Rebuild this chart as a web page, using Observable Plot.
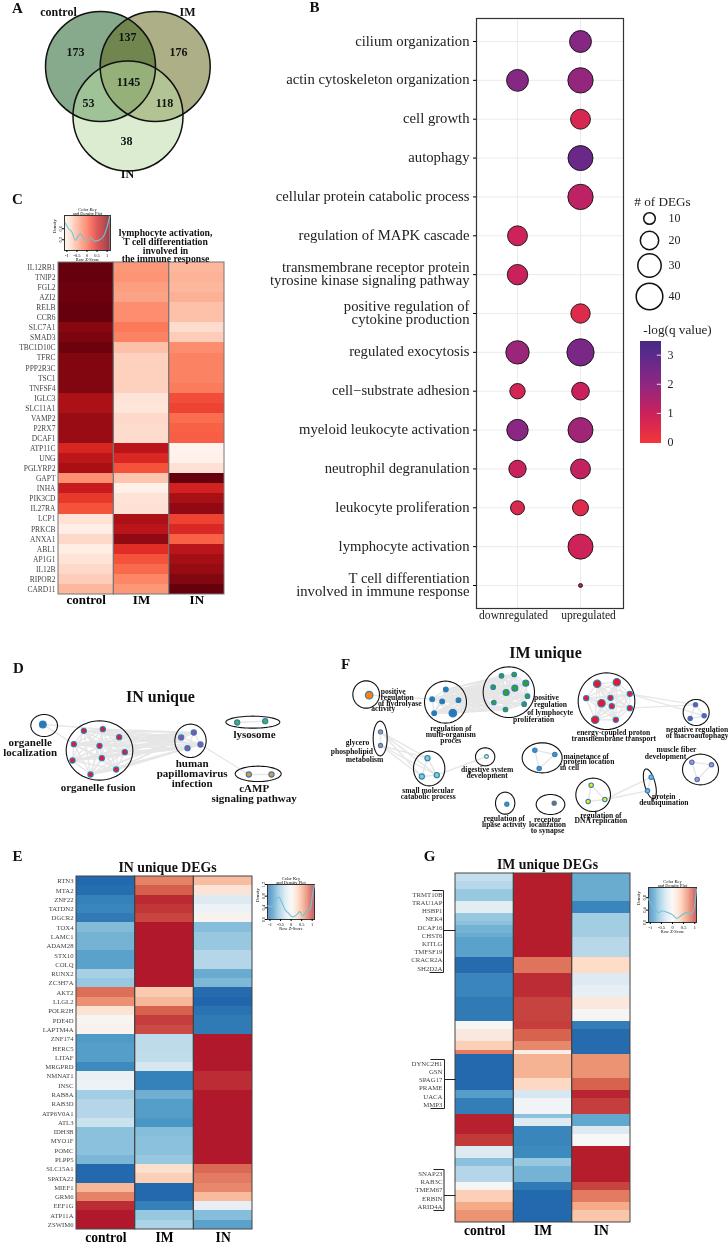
<!DOCTYPE html>
<html><head><meta charset="utf-8">
<script src="https://cdn.jsdelivr.net/npm/d3@7"></script>
<script src="https://cdn.jsdelivr.net/npm/@observablehq/plot@0.6"></script>
<style>html,body{margin:0;background:#fff}#fig{position:relative;width:728px;height:1244px;overflow:hidden}#fig svg{position:absolute;max-width:none;background:transparent;will-change:transform}</style>
</head><body><div id="fig"></div>
<script>
const SERIF="Liberation Serif";
// ---------- A: Venn
const vennSets=[{name:"control",x:100,y:66,fill:"#87aa8c",op:1},{name:"IM",x:154.7,y:66,fill:"#5b610f",op:.5},{name:"IN",x:127.5,y:115.5,fill:"#b9d9a1",op:.5}];
const vennLabels=[{t:"173",x:75,y:52},{t:"137",x:127,y:37},{t:"176",x:178,y:52},{t:"1145",x:128,y:82},{t:"53",x:88,y:103},{t:"118",x:164,y:103},{t:"38",x:126,y:141}];
const vennNames=[{t:"control",x:58,y:12},{t:"IM",x:187,y:12},{t:"IN",x:127,y:174}];
// ---------- B: dot plot
const terms=["cilium organization","actin cytoskeleton organization","cell growth","autophagy","cellular protein catabolic process","regulation of MAPK cascade","transmembrane receptor protein\ntyrosine kinase signaling pathway","positive regulation of\ncytokine production","regulated exocytosis","cell\u2212substrate adhesion","myeloid leukocyte activation","neutrophil degranulation","leukocyte proliferation","lymphocyte activation","T cell differentiation\ninvolved in immune response"];
const dirs=["downregulated","upregulated"];
const downDEGs=[null,27,null,null,null,23,24,null,30,15.6,26,18.5,13.5,null,null];
const downQ=[null,2.2,null,null,null,.9,1,null,1.8,.8,2.1,1,.6,null,null];
const upDEGs=[27,36,23,35,36,null,null,22,42,19,35,23,16.5,35,2];
const upQ=[2.2,1.9,.7,2.7,1.2,null,null,.5,2.4,1,1.7,1.1,.5,.9,1.2];
const sizeBreaks=[10,20,30,40];
const qTicks=[0,1,2,3];
// ---------- C heatmap
const cGenes=["IL12RB1","TNIP2","FGL2","AZI2","RELB","CCR6","SLC7A1","SMAD3","TBC1D10C","TFRC","PPP2R3C","TSC1","TNFSF4","IGLC3","SLC11A1","VAMP2","P2RX7","DCAF1","ATP11C","UNG","PGLYRP2","GAPT","INHA","PIK3CD","IL27RA","LCP1","PRKCB","ANXA1","ABL1","AP1G1","IL12B","RIPOR2","CARD11"];
const cControl=[1.15,1.15,1.12,1.12,1.15,1.15,1,1.05,1.12,1.03,1.03,1.03,1.03,.8,.8,.9,.9,.9,.48,.68,.82,-.28,.6,.32,.15,-.92,-1.05,-.82,-1.05,-.92,-.82,-.72,-.55];
const cIM=[-.32,-.3,-.38,-.4,-.25,-.25,-.1,-.17,-.62,-.75,-.75,-.75,-.75,-.93,-.95,-.82,-.85,-.85,.7,.46,.15,-.65,-1.08,-.92,-.9,.8,.7,.95,.4,.15,0,-.2,-.32];
const cIN=[-.55,-.52,-.55,-.5,-.62,-.62,-.85,-.72,-.25,-.18,-.18,-.18,-.13,.18,.25,-.03,.05,.07,-1.1,-1.08,-.9,1.15,.52,.82,.95,.25,.45,.05,.7,.85,.92,1.02,1.15];
const cKeyZ=[-1.08,-.92,-.75,-.58,-.47,-.33,-.17,0,.2,.37,.58,.8,1,1.13];
const cKeyD=[.805,.6,.48,.18,.3,.42,.24,.15,.27,.15,.18,.3,.66,1.05];
// ---------- E heatmap
const eGenes=["RTN3","MTA2","ZNF22","TATDN2","DGCR2","TOX4","LAMC1","ADAM28","STX10","COLQ","RUNX2","ZC3H7A","AKT2","LLGL2","POLR2H","PDE4D","LAPTM4A","ZNF174","HERC5","LITAF","MRGPRD","NMNAT1","INSC","RAB8A","RAB3D","ATP6V0A1","ATL3","IDH3B","MYO1F","POMC","PLPP5","SLC15A1","SPATA22","MIEF1","GRM6","EEF1G","ATP11A","ZSWIM6"];
const eControl=[-1.13,-1.1,-.98,-.95,-1.02,-.63,-.68,-.68,-.78,-.78,-.48,-.55,.8,.66,.22,.03,.06,-.82,-.8,-.8,-.92,-.1,-.08,-.5,-.42,-.42,-.32,-.6,-.6,-.6,-.66,-1.13,-1.13,.48,.72,1.07,1.15,1.15];
const eIM=[.72,.87,1.08,1.03,.97,1.15,1.15,1.15,1.15,1.15,1.15,1.15,.38,.48,.85,1,.95,-.38,-.38,-.36,-.25,-.98,-.98,-.7,-.8,-.8,-.84,-.62,-.6,-.6,-.55,.24,.35,-1.13,-1.13,-.98,-.55,-.45];
const eIN=[.45,.2,-.2,-.08,.05,-.62,-.55,-.55,-.42,-.42,-.72,-.65,-1.12,-1.15,-1.07,-1.02,-1.02,1.15,1.15,1.15,1.15,1.07,1.07,1.15,1.15,1.15,1.15,1.15,1.15,1.15,1.15,.82,.75,.7,.46,-.12,-.62,-.78];
const eKeyZ=[-1.12,-.92,-.77,-.58,-.42,-.3,-.11,.05,.25,.41,.56,.72,.92,1.03,1.11];
const eKeyD=[.47,.44,.61,.77,.56,.35,.21,.09,.15,.27,.12,.27,.38,.91,1.17];
// ---------- G heatmap (87 rows)
const gControl=[-.35,-.35,-.4,-.4,-.55,-.55,-.55,-.15,-.15,-.15,-.55,-.55,-.6,-.68,-.68,-.72,-.78,-.78,-.78,-.78,-.78,-1.12,-1.12,-1.12,-1.12,-.95,-.95,-.95,-.95,-.95,-.95,-1.02,-1.02,-1.02,-1.02,-1.02,-1.02,.02,.02,.15,.15,.15,.35,.35,.75,-1.13,-1.13,-1.13,-1.13,-1.13,-1.13,-1.13,-1.13,-1.13,-.8,-.8,-1,-1,-1,-1,1.12,1.12,1.12,1.12,1.12,1.02,1.02,1.02,-.2,-.2,-.2,-.6,-.6,-.42,-.42,-.42,-.42,.02,.02,.35,.35,.35,.55,.55,.65,.65,.65];
const gIM=[1.13,1.13,1.13,1.13,1.13,1.13,1.13,1.13,1.13,1.13,1.13,1.13,1.13,1.13,1.13,1.13,1.13,1.13,1.13,1.13,1.13,.78,.78,.78,.78,1.07,1.07,1.07,1.07,1.07,1.07,.98,.98,.98,.98,.98,.98,1,1,.85,.85,.85,.7,.7,.1,.5,.5,.5,.5,.5,.5,.3,.3,.3,-.25,-.25,-.05,-.05,-.05,-.05,-.6,-.2,-.2,-.95,-.95,-.95,-.95,-.95,-.92,-.92,-.92,-.55,-.55,-.68,-.68,-.68,-.68,-1.02,-1.02,-1.13,-1.13,-1.13,-1.13,-1.13,-1.13,-1.13,-1.13];
const gIN=[-.72,-.72,-.72,-.72,-.72,-.72,-.72,-.95,-.95,-.95,-.5,-.5,-.5,-.5,-.5,-.5,-.4,-.4,-.4,-.4,-.4,.28,.28,.28,.28,-.2,-.2,-.2,-.12,-.12,-.12,.15,.15,.15,.02,.02,.02,-1,-1,-1.12,-1.12,-1.12,-1.12,-1.12,-1.12,.65,.65,.65,.65,.65,.65,.85,.85,.85,1.1,1.1,1,1,1,1,-.75,-.75,-.75,-.2,-.2,0,0,0,1.13,1.13,1.13,1.13,1.13,1.13,1.13,1.13,1.13,.98,.98,.75,.75,.75,.55,.55,.4,.4,.4];
const gKeyZ=[-1.08,-.92,-.77,-.62,-.46,-.31,0,.2,.38,.62,.82,.97,1.08];
const gKeyD=[.76,.54,.4,.32,.38,.35,.25,.13,.22,.32,.27,.43,1.08];
const gLabels=[["TRMT10B",894],["TRAU1AP",902.2],["HSBP1",910.5],["NEK4",918.7],["DCAF16",927],["CHST6",935],["KITLG",943.2],["TMFSF19",951.5],["CRACR2A",959.7],["SH2D2A",968],["DYNC2H1",1063],["GSN",1071.3],["SPAG17",1079.5],["PRAME",1087.7],["UACA",1096],["MMP3",1104],["SNAP23",1173],["RAB3C",1181.3],["TMEM67",1189.6],["ERBIN",1198],["ARID4A",1206.2]];
const gBrackets=[[432,890,443,890],[443,890,443,972],[429,972,443,972],[443,930,455,930],[430,1059,444,1059],[444,1059,444,1108],[430,1108,444,1108],[444,1079,455,1079],[433,1169,443.5,1169],[443.5,1169,443.5,1210],[433,1210,443.5,1210],[443.5,1195,455,1195]];
// ---------- D network (layout units)
const dGroups=[
 {fill:"#2b78b5",r:3.4,pts:[[127,282]]},
 {fill:"#e41a2c",r:2.6,pts:[[250,301],[307,296],[356,320],[220,341],[297,346],[373,365],[216,390],[304,383],[347,417],[270,432]]},
 {fill:"#984ea3",r:2.6,pts:[[580,306],[542,321],[600,342],[561,353]]},
 {fill:"#4daf4a",r:2.6,pts:[[710,276],[794,272]]},
 {fill:"#ff8c1a",r:2.6,pts:[[745,432],[813,432]]}];
const dEllipses=[[131,285,40,33,0],[297,360,100,89,0],[570,331,47,50,0],[757,275,81,18,0],[773,430,69,23,0]];
const dCross=[[0,1,[0,3]],[0,1,[0,1]],[1,2],[2,4,[2,0]]];
const dLabels=[{t:"organelle\nlocalization",x:89,y:351},{t:"organelle fusion",x:293,y:472},{t:"human\npapillomavirus\ninfection",x:575,y:429},{t:"lysosome",x:762,y:314},{t:"cAMP\nsignaling pathway",x:761,y:490}];
// ---------- F network (layout units)
const fGroups=[
 {fill:"#ff7f0e",r:3.8,pts:[[176,194]]},
 {fill:"#2b78b5",r:2.4,pts:[[406,177],[365,206],[395,213],[444,209],[371,248],[427,248]],big:[5],rb:3.8},
 {fill:"#33a02c",r:2.3,pts:[[573,136],[611,132],[646,158],[548,170],[587,186],[613,173],[651,197],[550,216],[585,237],[641,221]],big:[2,5,4],rb:3},
 {fill:"#e41a2c",r:2.6,pts:[[860,160],[919,155],[958,190],[827,203],[900,202],[873,218],[904,227],[958,233],[854,268],[916,268]],big:[0,1,5,8],rb:3.7},
 {fill:"#8e44ad",r:2.2,pts:[[1155,223],[1139,264],[1181,256]]},
 {fill:"#f4777f",r:2.1,pts:[[210,304],[210,345]]},
 {fill:"#7fd0c0",r:2.6,pts:[[351,383],[334,438],[379,434]]},
 {fill:"#fff59d",r:1.9,pts:[[528,378]]},
 {fill:"#4f8fbf",r:2.2,pts:[[673,359],[733,372],[686,414]]},
 {fill:"#e377c2",r:2.2,pts:[[1144,395],[1203,403],[1160,447]]},
 {fill:"#7ab5dd",r:2.2,pts:[[1022,440],[1011,481]]},
 {fill:"#ffe900",r:2.2,pts:[[842,464],[883,507],[833,513]]},
 {fill:"#3f8fc4",r:2.1,pts:[[589,521]]},
 {fill:"#b5562a",r:2.1,pts:[[731,518]]}];
const fEllipses=[[167,192,40,41,0],[405,215,63,63,0],[595,185,77,76,0],[888,212,85,85,0],[1157,246,39,39,0],[209,324,21,52,0],[356,414,47,52,0],[524,379,29,27,0],[695,382,60,45,0],[1170,417,54,46,0],[1018,460,16,46,15],[848,493,52,50,0],[584,518,29,33,0],[720,522,43,30,0]];
const fCross=[[0,1,[0,1]],[1,2],[3,4,[2,0]],[3,4,[7,0]],[3,4,[2,2]],[5,6],[6,7,[2,0]],[11,10,[1,0]],[11,10,[1,1]]];
const fLabels=[["positive",248,183],["regulation",260,201],["of hydrolyase",268,219],["activity",218,235],["regulation of",421,293],["multi-organism",421,311],["proces",421,330],["positive",708,200],["regulation",720,221],["of lymphocyte",719,245],["proliferation",669,268],["energy-coupled proton",909,307],["transmembrane transport",910,325],["negative regulation",1160,296],["of macroautophagy",1160,314],["glycero",141,337],["phospholipid",124,362],["metabolism",162,386],["small molecular",353,480],["catabolic process",353,497],["digestive system",530,417],["development",530,434],["mainetance of",827,377],["protein location",835,394],["in cell",777,411],["muscle fiber",1098,358],["development",1065,377],["protein",1060,499],["deubiquination",1060,516],["regulation of",871,554],["DNA replication",871,571],["regulation of",581,564],["lipase activity",581,581],["receptor",711,566],["localization",711,583],["to synapse",711,600]];
// ---------- page-level text
const panelLetters=[["A",17,8],["B",314,7],["C",17,199],["D",18,668],["E",17,856],["F",345,664],["G",429,856]];
const titles=[["IN unique",160,696,16],["IM unique",545,652,16],["IN unique DEGs",167,867,13.8],["IM unique DEGs",547,864,13.8]];

// ---------- helpers
const fig=document.getElementById("fig");
function place(svg,left,top){svg.style.left=left+"px";svg.style.top=top+"px";fig.append(svg);}
const style={fontFamily:SERIF,background:"transparent"};
const redScale={type:"linear",scheme:"Reds",domain:[-1.15,1.15]};
const rdBuScale={type:"linear",domain:[-1.15,-.8625,-.575,-.2875,0,.2875,.575,.8625,1.15],range:["#2166ac","#4393c3","#92c5de","#d1e5f0","#f7f7f7","#fddbc7","#f4a582","#d6604d","#b2182b"]};
const samples=["control","IM","IN"];
function heat({rows,cols,color,left,right,top,bottom,labels=true,fs=6.7,colFs=13,tickPad=3,border="#555"}){
  const data=samples.flatMap((s,j)=>rows.map((r,i)=>({s,r,v:cols[j][i]})));
  const marks=[
    Plot.cell(data,{x:"s",y:"r",fill:"v",shapeRendering:"crispEdges"}),
    Plot.cell(samples,{x:d=>d,stroke:border,strokeWidth:1,fill:"none"}),
    Plot.axisX({tickSize:0,label:null,fontWeight:"bold",fontSize:colFs,tickPadding:tickPad})
  ];
  if(labels) marks.push(Plot.axisY({tickSize:0,label:null,tickPadding:3,fontSize:fs,fill:"#444"}));
  place(Plot.plot({width:right+2,height:bottom-top+22,marginLeft:left,marginRight:2,marginTop:1,marginBottom:21,style,
    x:{domain:samples,padding:0,round:false},y:{domain:rows,padding:0,round:false,axis:labels?undefined:null},color,marks}),0,top-1);
}
function colorKey({z,d,color,x0,x1,y0,y1,xDomain,yDomain,yTicks}){
  const mL=12,mT=8,mB=13,mR=2,cells=d3.range(-1.2,1.2,.025),fz=4.4;
  place(Plot.plot({width:x1-x0+mL+mR,height:y1-y0+mT+mB,marginLeft:mL,marginRight:mR,marginTop:mT,marginBottom:mB,style,
    x:{domain:xDomain},y:{domain:yDomain},color,
    marks:[
      Plot.rect(cells.filter(c=>c>=xDomain[0]&&c+.025<=xDomain[1]),{x1:c=>c,x2:c=>c+.03,fill:c=>c,fillOpacity:.85}),
      Plot.frame({stroke:"#333"}),
      Plot.line(z.map((v,i)=>({z:v,d:d[i]})),{x:"z",y:"d",stroke:"#6cc6da",strokeWidth:1.1,curve:"monotone-x"}),
      Plot.axisX({ticks:[-1,-.5,0,.5,1],tickFormat:t=>t===0?"0":String(t),tickSize:2,tickPadding:1,fontSize:fz,label:null}),
      Plot.axisY({ticks:yTicks,tickSize:2,tickPadding:1,fontSize:fz,label:null,tickRotate:-90}),
      Plot.text(["Density"],{frameAnchor:"left",dx:-10,rotate:-90,fontSize:fz}),
      Plot.text(["Color Key\nand Density Plot"],{frameAnchor:"top",lineAnchor:"bottom",dy:-.5,fontSize:fz,lineHeight:.8}),
      Plot.text(["Row Z-Score"],{frameAnchor:"bottom",lineAnchor:"top",dy:7.5,fontSize:fz})
    ]}),x0-mL,y0-mT);
}
function network({groups,ellipses,cross,width,height,xMax,yMax,left,top,texts}){
  const nodes=groups.flatMap((g,gi)=>g.pts.map((p,i)=>({x:p[0],y:p[1],fill:g.fill,r:g.big&&g.big.includes(i)?g.rb:g.r,gi,i})));
  const links=[];
  groups.forEach(g=>{g.pts.forEach((a,i)=>g.pts.forEach((b,j)=>{if(j>i)links.push({a,b})}))});
  cross.forEach(([g1,g2,pick])=>{
    if(pick) links.push({a:groups[g1].pts[pick[0]],b:groups[g2].pts[pick[1]]});
    else groups[g1].pts.forEach(a=>groups[g2].pts.forEach(b=>links.push({a,b})));
  });
  const outline=ellipses.flatMap(([cx,cy,rx,ry,rot],id)=>{
    const th=rot*Math.PI/180;
    return d3.range(0,61).map(k=>{const t=k/60*2*Math.PI,ex=rx*Math.cos(t),ey=ry*Math.sin(t);
      return {id,x:cx+ex*Math.cos(th)+ey*Math.sin(th),y:cy-ex*Math.sin(th)+ey*Math.cos(th)};});
  });
  place(Plot.plot({width,height,margin:0,style,x:{domain:[0,xMax],axis:null},y:{domain:[yMax,0],axis:null},r:{type:"identity"},color:{type:"identity"},
    marks:[
      Plot.link(links,{x1:d=>d.a[0],y1:d=>d.a[1],x2:d=>d.b[0],y2:d=>d.b[1],stroke:"#e6e6e6",strokeWidth:1.4}),
      Plot.line(outline,{x:"x",y:"y",z:"id",stroke:"#111",strokeWidth:1.1}),
      Plot.dot(nodes,{x:"x",y:"y",r:"r",fill:"fill",stroke:"#2c7fb8",strokeWidth:1.1}),
      ...texts
    ]}),left,top);
}

// ---------- draw A
place(Plot.plot({width:240,height:185,margin:0,style,x:{domain:[0,240],axis:null},y:{domain:[185,0],axis:null},
  marks:[
    Plot.dot(vennSets,{x:"x",y:"y",r:55,fill:"fill",fillOpacity:"op",stroke:"none"}),
    Plot.dot(vennSets,{x:"x",y:"y",r:55,fill:"none",stroke:"#111",strokeWidth:1.5}),
    Plot.text(vennLabels,{x:"x",y:"y",text:"t",fontWeight:"bold",fontSize:12,fill:"#111"}),
    Plot.text(vennNames,{x:"x",y:"y",text:"t",fontWeight:"bold",fontSize:12,fill:"#111"})
  ]}),0,0);

// ---------- draw B
const bData=[
  ...terms.flatMap((t,i)=>downDEGs[i]==null?[]:[{t,dir:dirs[0],n:downDEGs[i],q:downQ[i]}]),
  ...terms.flatMap((t,i)=>upDEGs[i]==null?[]:[{t,dir:dirs[1],n:upDEGs[i],q:upQ[i]}])];
const rScale={type:"linear",domain:[0,10,20,30,40],range:[1,5.8,9.2,11.7,13.3]};
const qScale={type:"linear",domain:[0,1,2,3,3.5],range:["#f2353b","#c9215c","#8e2782","#5a2a8c","#442a80"]};
place(Plot.plot({width:626,height:632,marginLeft:476,marginRight:3,marginTop:18,marginBottom:24,style,
  x:{type:"point",domain:dirs,range:[517,580],padding:0,round:false},y:{type:"point",domain:terms,range:[41,585],padding:0,round:false},r:rScale,color:qScale,
  marks:[
    Plot.gridX({stroke:"#ebebeb",strokeOpacity:1}),
    Plot.gridY({stroke:"#ebebeb",strokeOpacity:1}),
    Plot.frame({stroke:"#333",strokeWidth:1.2}),
    Plot.dot(bData,{x:"dir",y:"t",r:"n",fill:"q",stroke:"#111",strokeWidth:.9}),
    Plot.axisY({tickSize:3,tickPadding:4,fontSize:14.7,lineHeight:.865,label:null,fill:"#222"}),
    Plot.axisX([dirs[0]],{tickSize:0,tickPadding:2,dx:-4,fontSize:11.6,label:null,fill:"#222"}),
    Plot.axisX([dirs[1]],{tickSize:0,tickPadding:2,dx:8,fontSize:11.6,label:null,fill:"#222"})
  ]}),0,0);
// size legend
place(Plot.plot({width:98,height:130,margin:0,style,x:{domain:[0,98],axis:null},y:{type:"linear",domain:[10,20,30,40],range:[23,45,70,101],axis:null},r:rScale,
  marks:[
    Plot.text(["# of DEGs"],{frameAnchor:"top-left",dx:32,dy:6,lineAnchor:"middle",textAnchor:"middle",fontSize:13.2,fill:"#222"}),
    Plot.dot(sizeBreaks,{x:()=>19,y:d=>d,r:d=>d,stroke:"#111",fill:"white"}),
    Plot.text(sizeBreaks,{x:()=>38,y:d=>d,text:d=>d,textAnchor:"start",fontSize:12,fill:"#222"})
  ]}),630,195);
// colour bar
place(Plot.plot({width:98,height:128,marginLeft:10,marginRight:67,marginTop:20,marginBottom:7,style,
  x:{domain:[0,1],axis:null},y:{domain:[0,3.47]},color:qScale,
  marks:[
    Plot.rect(d3.range(-.03,3.47,.02),{x1:()=>0,x2:()=>1,y1:d=>d,y2:d=>d+.025,fill:d=>Math.max(d,0),shapeRendering:"crispEdges"}),
    Plot.ruleY([1,2,3],{x1:()=>.8,x2:()=>1,stroke:"#ddd"}),
    Plot.axisY(qTicks,{anchor:"right",tickSize:0,tickPadding:6,fontSize:12,label:null,fill:"#222"}),
    Plot.text(["-log(q value)"],{frameAnchor:"top-left",dx:37,dy:-12,lineAnchor:"middle",textAnchor:"middle",fontSize:13.2,fill:"#222"})
  ]}),630,321);

// ---------- draw heatmaps
heat({rows:cGenes,cols:[cControl,cIM,cIN],color:redScale,left:58,right:224,top:262,bottom:594,fs:7.5,colFs:13,tickPad:0,border:"#777"});
heat({rows:eGenes,cols:[eControl,eIM,eIN],color:rdBuScale,left:76,right:252,top:876,bottom:1229,fs:6.7,colFs:13.6,border:"#444"});
heat({rows:gControl.map((_,i)=>i),cols:[gControl,gIM,gIN],color:rdBuScale,left:455,right:630,top:873,bottom:1222,labels:false,colFs:13.6,border:"#444"});
colorKey({z:cKeyZ,d:cKeyD,color:redScale,x0:64,x1:110,y0:215,y1:250,xDomain:[-1.12,1.17],yDomain:[-.19,1.08],yTicks:[.2,.6]});
colorKey({z:eKeyZ,d:eKeyD,color:rdBuScale,x0:267,x1:314,y0:884,y1:919,xDomain:[-1.12,1.11],yDomain:[0,1.2],yTicks:[0,.4,.8,1.2]});
colorKey({z:gKeyZ,d:gKeyD,color:rdBuScale,x0:648,x1:696,y0:887,y1:922,xDomain:[-1.08,1.08],yDomain:[0,1.13],yTicks:[0,.4,.8]});

// ---------- draw networks
network({groups:dGroups,ellipses:dEllipses,cross:dCross,width:320,height:200,xMax:960,yMax:600,left:0,top:630,
  texts:[Plot.text(dLabels,{x:"x",y:"y",text:"t",fontWeight:"bold",fontSize:11,lineHeight:.92,fill:"#111"})]});
network({groups:fGroups,ellipses:fEllipses,cross:fCross,width:418,height:220,xMax:1254,yMax:660,left:310,top:630,
  texts:[Plot.text(fLabels,{x:d=>d[1],y:d=>d[2],text:d=>d[0],fontWeight:"bold",fontSize:7.6,fill:"#111"})]});

// ---------- page overlay: letters, titles, gene labels of G, brackets
place(Plot.plot({width:728,height:1244,margin:0,style,x:{domain:[0,728],axis:null},y:{domain:[1244,0],axis:null},
  marks:[
    Plot.link(gBrackets,{x1:d=>d[0],y1:d=>d[1],x2:d=>d[2],y2:d=>d[3],stroke:"#222",strokeWidth:1}),
    Plot.text(gLabels,{x:()=>442,y:d=>d[1],text:d=>d[0],textAnchor:"end",fontSize:6.8,fill:"#444"}),
    Plot.text(panelLetters,{x:d=>d[1],y:d=>d[2],text:d=>d[0],fontWeight:"bold",fontSize:15,fill:"#111"}),
    Plot.text(titles,{x:d=>d[1],y:d=>d[2],text:d=>d[0],fontSize:d=>d[3],fontWeight:"bold",fill:"#111"}),
    Plot.text(["lymphocyte activation,\nT cell differentiation\ninvolved in\nthe immune response"],{x:()=>165,y:()=>246,fontWeight:"bold",fontSize:9.7,lineHeight:.89,fill:"#111"})
  ]}),0,0);
</script></body></html>
